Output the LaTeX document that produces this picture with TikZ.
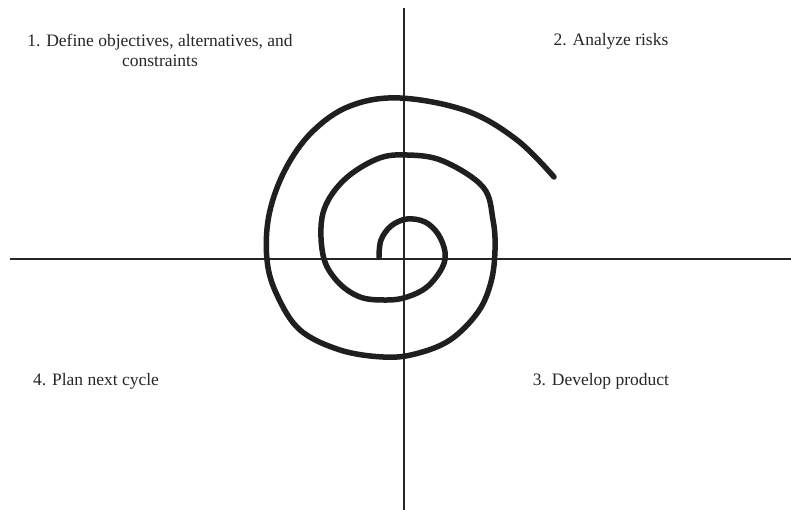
\documentclass[tikz,border=0pt]{standalone}
\usepackage{fontspec}
\setmainfont{Liberation Serif}
\begin{document}
\begin{tikzpicture}[x=1pt,y=-1pt,
  axis/.style={line width=1.6pt,color=black!85},
  spiralline/.style={line width=5.5pt,color=black!88,line cap=round,line join=round},
  lbl/.style={font=\fontsize{17.5}{20}\selectfont,align=center,inner sep=0pt,text=black!85}]
\useasboundingbox (0,0) rectangle (791,510);
\fill[white] (0,0) rectangle (791,510);
\coordinate (vtop) at (404,8);
\coordinate (vbot) at (404,510);
\coordinate (hleft) at (10,259);
\coordinate (hright) at (791,259);
\draw[axis] (vtop) -- (vbot);
\draw[axis] (hleft) -- (hright);
\draw[spiralline] plot[smooth,tension=0.6] coordinates {
 (379,257) (381,240) (391,226) (407,219) (425,222) (438,234) (445,252)
 (442,268) (427,287) (407,297) (387,300) (360,297) (337,281) (323,255)
 (323,213) (343,181) (377,159) (407,155) (443,161) (483,187) (493,220)
 (495,250) (491,282) (478,312) (450,340) (415,354) (383,357) (340,350)
 (300,330) (277,295) (267,260) (269,215) (285,170) (312,132) (350,106) (400,98)
 (467,111) (517,140) (554,177)};
\node[lbl] (q1) at (160,50) {1. Define objectives, alternatives, and\\constraints};
\node[lbl] (q2) at (611,41) {2. Analyze risks};
\node[lbl] (q4) at (96,381) {4. Plan next cycle};
\node[lbl] (q3) at (601,381) {3. Develop product};
\end{tikzpicture}
\end{document}
